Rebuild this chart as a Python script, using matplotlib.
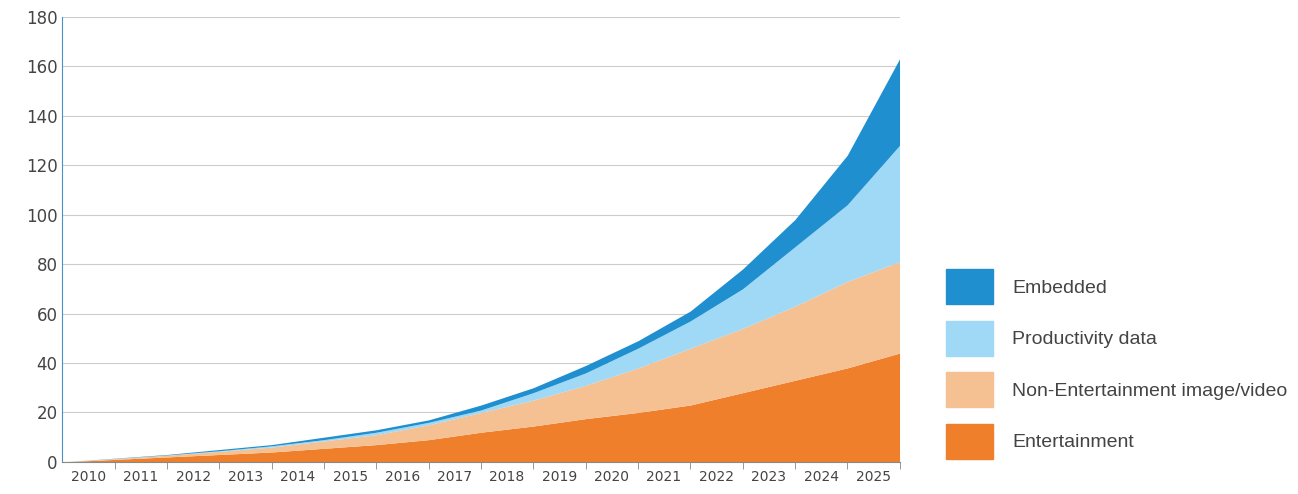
import numpy as np
import matplotlib.pyplot as plt
from matplotlib.patches import Patch


def plot_data_growth() -> None:
    # values at bin edges, 2009.5 .. 2025.5
    edges = np.arange(2009.5, 2026.0, 1.0)
    entertainment = [0, 1, 2, 3, 4, 5.5, 7, 9, 12, 14.5, 17.5, 20, 23, 28, 33, 38, 44]
    non_ent = [0, 1.3, 2.7, 4.3, 6, 8.5, 11, 15, 20, 25, 31, 38, 46, 54, 63, 73, 81]
    productivity = [0, 1.4, 2.8, 4.5, 6.5, 9, 12, 16, 21, 28, 36, 46, 57, 70, 87, 104, 128]
    embedded = [0, 1.5, 3, 5, 7, 10, 13, 17, 23, 30, 39, 49, 61, 78, 98, 124, 163]

    colors = ["#ef7f2a", "#f6c192", "#9fd9f5", "#1f8fd0"]
    labels = ["Entertainment", "Non-Entertainment image/video", "Productivity data", "Embedded"]
    layers = [entertainment, non_ent, productivity, embedded]

    plt.figure(figsize=(12.98, 4.94), dpi=100)
    plt.axes([0.048, 0.065, 0.645, 0.901])
    lower = np.zeros(len(edges))
    for values, color in zip(layers, colors):
        upper = np.array(values, dtype=float)
        plt.fill_between(edges, lower, upper, color=color, linewidth=0)
        lower = upper

    ax = plt.gca()
    plt.xlim(2009.5, 2025.5)
    plt.ylim(0, 180)
    plt.yticks(range(0, 181, 20), fontsize=12, color="#444444")
    plt.xticks(range(2010, 2026), fontsize=10, color="#444444")
    ax.set_xticks(np.arange(2010.5, 2025.6, 1.0), minor=True)
    ax.tick_params(axis="x", which="major", length=0, pad=6)
    ax.tick_params(axis="x", which="minor", length=5, color="#888888")
    ax.tick_params(axis="y", length=0)
    plt.grid(axis="y", color="#cccccc", linewidth=0.8)
    ax.set_axisbelow(True)
    for side in ["top", "right"]:
        ax.spines[side].set_visible(False)
    ax.spines["left"].set_color("#4a90c8")
    ax.spines["bottom"].set_color("#888888")

    handles = [Patch(color=c) for c in reversed(colors)]
    plt.legend(handles, list(reversed(labels)), loc="center left",
               bbox_to_anchor=(1.035, 0.22), frameon=False,
               prop={"family": "Liberation Sans", "size": 14},
               handlelength=2.4, handleheight=2.4, labelspacing=0.85,
               handletextpad=1.0, labelcolor="#444444")

    plt.savefig("out.png")


def main() -> None:
    plot_data_growth()


if __name__ == "__main__":
    main()
